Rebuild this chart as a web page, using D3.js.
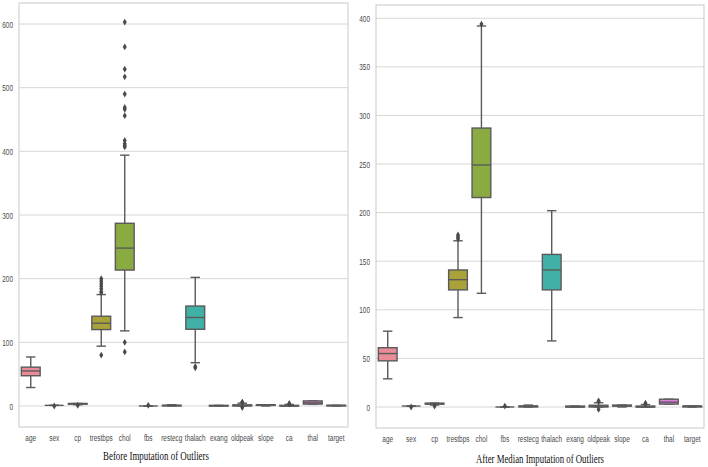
<!DOCTYPE html>
<html>
<head>
<meta charset="utf-8">
<script src="https://cdn.jsdelivr.net/npm/d3@7"></script>
<style>
  body { margin: 0; background: #fff; }
  .tick text { fill: #4a4a4a; font-family: "Liberation Sans", Arial, sans-serif; font-size: 9.5px; }
  .title { font-family: "Liberation Serif", "Times New Roman", serif; font-size: 13.5px; fill: #111; }
</style>
</head>
<body>
<svg class="chart" width="708" height="467"></svg>
<script>
// DATA /////////////////////////////////
const categories = ["age", "sex", "cp", "trestbps", "chol", "fbs", "restecg", "thalach",
  "exang", "oldpeak", "slope", "ca", "thal", "target"];

// before imputation
const beforeLow = [29, 1, 2, 94, 118, 0, 0, 68, 0, 0, 0, 0, 3, 0];
const beforeQ1 = [47.5, 1, 3, 120, 213.5, 0, 0, 120.5, 0, 0, 1, 0, 3, 0];
const beforeMedian = [55, 1, 3, 130, 248, 0, 1, 139, 0, 0.8, 1, 0, 5, 1];
const beforeQ3 = [61, 1, 4, 141, 287, 0, 1, 157, 1, 1.8, 2, 1, 8, 1];
const beforeHigh = [77, 1, 4, 175, 394, 0, 2, 202, 1, 4.4, 2, 2.5, 8, 1];
const beforeOutliers = [[], [0], [1], [80, 178, 180, 184, 188, 192, 196, 200], [85, 100, 407, 409, 412, 417, 456, 466, 469, 490, 517, 529, 564, 603],
  [1], [], [60, 62], [], [-2.5, 5.6, 6.2], [], [3, 4], [], []];

// after median imputation
const afterLow = [29, 1, 2, 92, 117, 0, 0, 68, 0, 0, 0, 0, 3, 0];
const afterQ1 = [47.5, 1, 3, 120.5, 215.5, 0, 0, 120.5, 0, 0, 1, 0, 3, 0];
const afterMedian = [55, 1, 3, 131, 249, 0, 1, 141, 0, 0.8, 1, 0, 5, 1];
const afterQ3 = [61, 1, 4, 141, 287, 0, 1, 157, 1, 1.8, 2, 1, 8, 1];
const afterHigh = [78, 1, 4, 171, 392, 0, 2, 202, 1, 4.4, 2, 2.5, 8, 1];
const afterOutliers = [[], [0], [1], [173, 175, 177], [394],
  [1], [], [], [], [-2.5, 5.6, 6.2], [], [3, 4], [], []];

const leftTicks = [0, 100, 200, 300, 400, 500, 600];
const rightTicks = [0, 50, 100, 150, 200, 250, 300, 350, 400];

// seaborn-ish husl palette, desaturated
const palette = ["#ea8b98", "#d99a6a", "#bc9f4c", "#a9a23b", "#8aab42", "#5fb25a", "#4bb08c",
  "#41b0a7", "#48acc0", "#5aa5d6", "#8e9be2", "#bb8ee0", "#e07fd9", "#e888b8"];

// DRAW //////////////////////////////////
const svg = d3.select(".chart");
const lineColor = "#5a5a5a";
const squeeze = 0.68; // source image is horizontally compressed

const drawPanel = (opts) => {
  const { left, right, top, bottom, domain, ticks, low, q1, med, q3, high, outliers, title, titleX, titleY, titleWidth } = opts;

  const x = d3.scaleBand().domain(categories).range([left, right]).padding(0);
  const y = d3.scaleLinear().domain(domain).range([bottom, top]);
  const g = svg.append("g");

  // grid
  g.selectAll(".grid")
    .data(ticks)
    .enter()
    .append("line")
    .attr("x1", left)
    .attr("x2", right)
    .attr("y1", (d) => y(d))
    .attr("y2", (d) => y(d))
    .attr("stroke", "#d6d6d6")
    .attr("stroke-width", 1);

  // frame
  g.append("rect")
    .attr("x", left)
    .attr("y", top)
    .attr("width", right - left)
    .attr("height", bottom - top)
    .attr("fill", "none")
    .attr("stroke", "#d2d2d2")
    .attr("stroke-width", 1.2);

  // axes
  const yAxis = g.append("g")
    .attr("transform", `translate(${left},0)`)
    .call(d3.axisLeft(y).tickValues(ticks).tickSize(0).tickPadding(6));
  yAxis.select(".domain").remove();
  yAxis.selectAll("text").attr("x", -6 / squeeze).attr("transform", `scale(${squeeze},1)`);

  const xAxis = g.append("g")
    .attr("transform", `translate(0,${bottom})`)
    .call(d3.axisBottom(x).tickSize(0).tickPadding(7));
  xAxis.select(".domain").remove();
  xAxis.selectAll("text").attr("transform", `scale(${squeeze},1)`);

  const bw = x.bandwidth() * 0.8;
  const cap = bw * 0.5;
  const cx = (i) => x(categories[i]) + x.bandwidth() / 2;

  const boxes = g.selectAll(".box")
    .data(categories)
    .enter()
    .append("g")
    .attr("class", "box");

  // whiskers
  boxes.append("line")
    .attr("x1", (d, i) => cx(i)).attr("x2", (d, i) => cx(i))
    .attr("y1", (d, i) => y(q3[i])).attr("y2", (d, i) => y(high[i]))
    .attr("stroke", lineColor).attr("stroke-width", 1.4);
  boxes.append("line")
    .attr("x1", (d, i) => cx(i)).attr("x2", (d, i) => cx(i))
    .attr("y1", (d, i) => y(q1[i])).attr("y2", (d, i) => y(low[i]))
    .attr("stroke", lineColor).attr("stroke-width", 1.4);
  // caps
  [high, low].forEach((arr) => {
    boxes.append("line")
      .attr("x1", (d, i) => cx(i) - cap / 2).attr("x2", (d, i) => cx(i) + cap / 2)
      .attr("y1", (d, i) => y(arr[i])).attr("y2", (d, i) => y(arr[i]))
      .attr("stroke", lineColor).attr("stroke-width", 1.4);
  });

  // box
  boxes.append("rect")
    .attr("x", (d, i) => cx(i) - bw / 2)
    .attr("width", bw)
    .attr("y", (d, i) => y(q3[i]))
    .attr("height", (d, i) => Math.max(0, y(q1[i]) - y(q3[i])))
    .attr("fill", (d, i) => palette[i])
    .attr("stroke", lineColor)
    .attr("stroke-width", 1.4);

  // median
  boxes.append("line")
    .attr("x1", (d, i) => cx(i) - bw / 2).attr("x2", (d, i) => cx(i) + bw / 2)
    .attr("y1", (d, i) => y(med[i])).attr("y2", (d, i) => y(med[i]))
    .attr("stroke", lineColor).attr("stroke-width", 1.4);

  // fliers (thin diamonds)
  const fliers = [];
  outliers.forEach((arr, i) => arr.forEach((v) => fliers.push({ i, v })));
  g.selectAll(".flier")
    .data(fliers)
    .enter()
    .append("path")
    .attr("class", "flier")
    .attr("d", (d) => {
      const px = cx(d.i), py = y(d.v);
      return `M${px},${py - 3.4}L${px + 2},${py}L${px},${py + 3.4}L${px - 2},${py}Z`;
    })
    .attr("fill", "#4a4a4a");

  // title
  svg.append("text")
    .attr("class", "title")
    .attr("x", titleX)
    .attr("y", titleY)
    .attr("text-anchor", "middle")
    .attr("textLength", titleWidth)
    .attr("lengthAdjust", "spacingAndGlyphs")
    .text(title);
};

drawPanel({
  left: 19, right: 348, top: 3, bottom: 427,
  domain: [-33, 633], ticks: leftTicks,
  low: beforeLow, q1: beforeQ1, med: beforeMedian, q3: beforeQ3, high: beforeHigh, outliers: beforeOutliers,
  title: "Before Imputation of Outliers", titleX: 156, titleY: 460, titleWidth: 106,
});

drawPanel({
  left: 376, right: 704, top: 5, bottom: 428,
  domain: [-21.6, 413.6], ticks: rightTicks,
  low: afterLow, q1: afterQ1, med: afterMedian, q3: afterQ3, high: afterHigh, outliers: afterOutliers,
  title: "After Median Imputation of Outliers", titleX: 540, titleY: 463, titleWidth: 128,
});
</script>
</body>
</html>
